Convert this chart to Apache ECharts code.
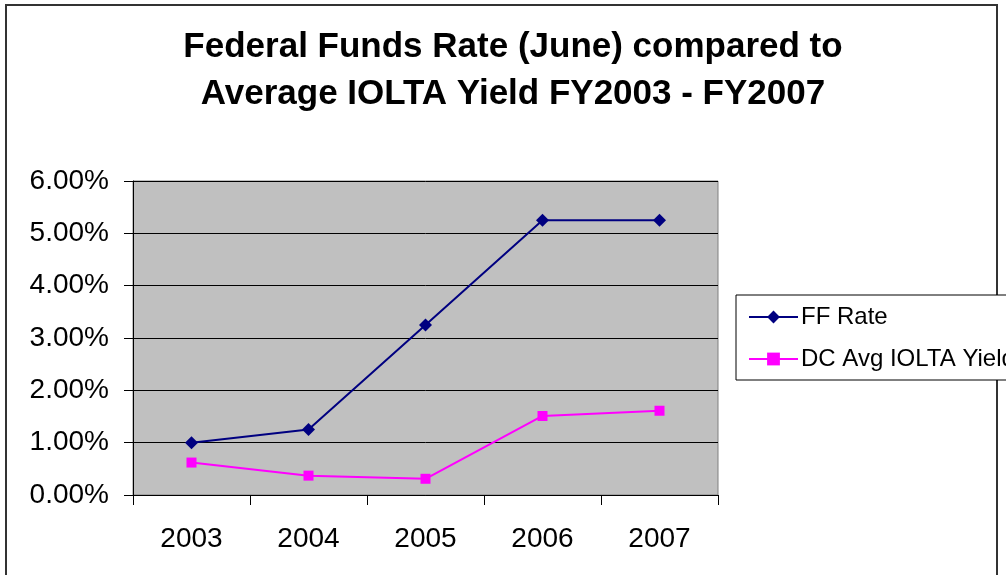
<!DOCTYPE html>
<html>
<head>
<meta charset="utf-8">
<script src="https://cdn.jsdelivr.net/npm/echarts@6/dist/echarts.min.js"></script>
<style>html,body{margin:0;padding:0;background:#fff;}#c{width:1006px;height:575px;}</style>
</head>
<body>
<div id="c"></div>
<script>
const categories = ['2003', '2004', '2005', '2006', '2007'];
const ffRate = [1.00, 1.25, 3.25, 5.25, 5.25];
const dcYield = [0.62, 0.37, 0.31, 1.51, 1.61];
const yTicks = [0, 1, 2, 3, 4, 5, 6];
const titleLines = ['Federal Funds Rate (June) compared to', 'Average IOLTA Yield FY2003 - FY2007'];
const seriesNames = ['FF Rate', 'DC Avg IOLTA Yield'];

const FONT = '"Liberation Sans", Arial, sans-serif';
const chart = echarts.init(document.getElementById('c'), null, {renderer: 'canvas'});
chart.setOption({
  animation: false,
  backgroundColor: '#fff',
  title: {
    text: titleLines.join('\n'),
    left: 513,
    textAlign: 'center',
    top: 24,
    padding: 0,
    textStyle: {fontFamily: FONT, fontWeight: 'bold', fontSize: 35, lineHeight: 47, color: '#000'}
  },
  graphic: [{
    type: 'rect', z: -1, silent: true,
    shape: {x: 6, y: 5, width: 991, height: 620},
    style: {fill: null, stroke: '#333', lineWidth: 2}
  }],
  legend: {
    orient: 'vertical',
    left: 736, top: 295,
    padding: [10, 20, 9, 12],
    itemGap: 18,
    itemWidth: 49, itemHeight: 16,
    borderColor: '#000', borderWidth: 1,
    backgroundColor: '#fff',
    textStyle: {fontFamily: FONT, fontSize: 24, color: '#000', padding: [0, 0, 0, -2]},
    data: seriesNames
  },
  grid: {
    left: 133, right: 288, top: 181, bottom: 80,
    show: true, backgroundColor: '#c0c0c0', borderColor: '#808080', borderWidth: 1
  },
  xAxis: {
    type: 'category', data: categories, boundaryGap: true,
    axisLine: {lineStyle: {color: '#000', width: 1}},
    axisTick: {show: true, length: 10, lineStyle: {color: '#000'}},
    axisLabel: {fontFamily: FONT, fontSize: 28, color: '#000', margin: 30},
    splitLine: {show: false}
  },
  yAxis: {
    type: 'value', min: yTicks[0], max: yTicks[yTicks.length - 1], interval: 1,
    axisLine: {show: true, lineStyle: {color: '#000', width: 1}},
    axisTick: {show: true, length: 9, lineStyle: {color: '#000'}},
    axisLabel: {fontFamily: FONT, fontSize: 28, color: '#000', margin: 24,
      formatter: v => v.toFixed(2) + '%'},
    splitLine: {show: true, lineStyle: {color: '#000', width: 1}}
  },
  series: [{
    name: seriesNames[0], type: 'line', data: ffRate,
    symbol: 'diamond', symbolSize: 13,
    lineStyle: {color: '#000080', width: 2},
    itemStyle: {color: '#000080'}
  }, {
    name: seriesNames[1], type: 'line', data: dcYield,
    symbol: 'rect', symbolSize: 10,
    lineStyle: {color: '#ff00ff', width: 2},
    itemStyle: {color: '#ff00ff'}
  }]
});
</script>
</body>
</html>
